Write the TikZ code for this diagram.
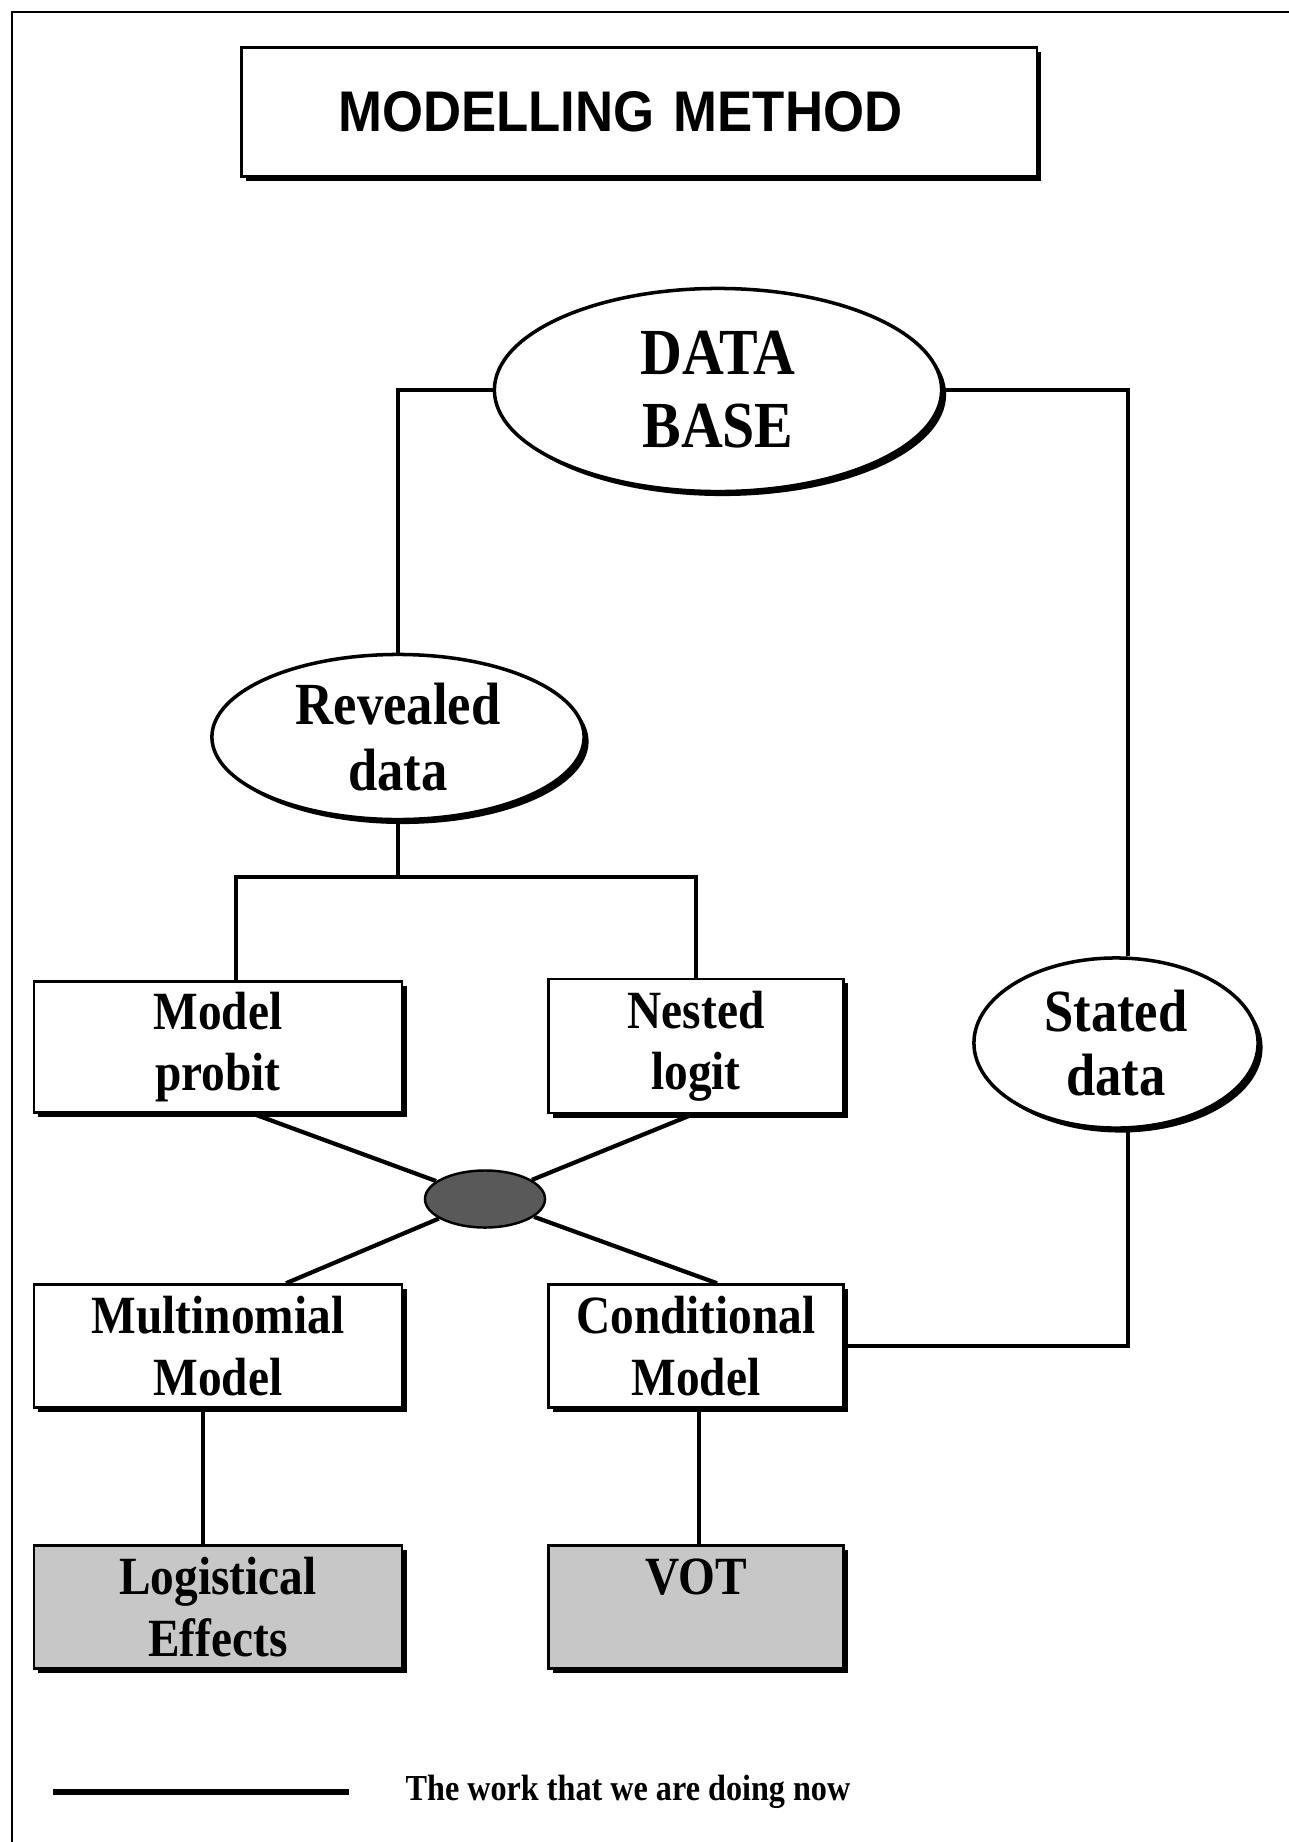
\documentclass[tikz,border=0pt]{standalone}
\usepackage{fontspec}
\setmainfont{Liberation Serif}
\newfontfamily\narrowserif[FakeStretch=0.88]{Liberation Serif}
\newfontfamily\headsans[FakeStretch=0.92]{Liberation Sans}
\usetikzlibrary{shapes.geometric,shadows}

\begin{document}
\begin{tikzpicture}[x=0.01cm, y=-0.01cm,
  every node/.style={inner sep=0pt, align=center},
  dropbk/.style={drop shadow={shadow xshift=0.045cm, shadow yshift=-0.045cm, fill=black, opacity=1}},
  methodbox/.style={draw, rectangle, line width=0.7pt, fill=white, dropbk,
    font=\narrowserif\bfseries\fontsize{15.3}{17.4}\selectfont},
  resultbox/.style={methodbox, fill=black!22},
  dataoval/.style={draw, ellipse, line width=1pt, fill=white, dropbk},
  link/.style={line width=1.2pt}]
  \useasboundingbox (0,0) rectangle (1289,1842);
  \draw[line width=0.6pt] (12,1842) -- (12,12) -- (1289,12);

  % title
  \node[draw, line width=0.7pt, fill=white, dropbk, minimum height=1.29cm, text width=7.95cm, align=left,
    font=\headsans\bfseries\fontsize{16.3}{18}\selectfont] (title) at (639,112) {\hspace*{0.97cm}MODELLING METHOD};

  % data sources
  \node[dataoval, minimum width=4.47cm, minimum height=2.03cm,
    font=\narrowserif\bfseries\fontsize{18.7}{20.8}\selectfont] (base) at (718,390) {DATA\\BASE};
  \node[dataoval, minimum width=3.72cm, minimum height=1.65cm,
    font=\narrowserif\bfseries\fontsize{17}{19}\selectfont] (revealed) at (398,737) {Revealed\\data};
  \node[dataoval, minimum width=2.84cm, minimum height=1.70cm,
    font=\narrowserif\bfseries\fontsize{17}{18}\selectfont] (stated) at (1116,1043) {Stated\\data};

  % models
  \node[methodbox, minimum width=3.68cm, minimum height=1.31cm] (probit) at (218,1047) {Model\\probit};
  \node[methodbox, minimum width=2.95cm, minimum height=1.34cm] (nested) at (696,1046) {Nested\\logit};
  \node[draw, ellipse, line width=0.7pt, fill=black!65, minimum width=1.2cm, minimum height=0.57cm] (hub) at (485,1199) {};
  \node[methodbox, minimum width=3.68cm, minimum height=1.23cm] (multi) at (218,1346) {Multinomial\\Model};
  \node[methodbox, minimum width=2.95cm, minimum height=1.23cm] (cond) at (696,1346) {Conditional\\Model};
  \node[resultbox, minimum width=3.68cm, minimum height=1.23cm] (logist) at (218,1607) {Logistical\\Effects};
  \node[resultbox, minimum width=2.95cm, minimum height=1.23cm] (vot) at (696,1607) {VOT\\\mbox{}};

  % connections
  \coordinate (fork) at (398,877);
  \draw[link] (base.west) -| (revealed.north);
  \draw[link] (base.east) -| ([xshift=0.12cm]stated.north);
  \draw[link] (revealed.south) -- (fork);
  \draw[link] ([xshift=0.18cm]probit.north) |- (fork) -| (nested.north);
  \draw[link] ([xshift=0.35cm]probit.south) -- (hub);
  \draw[link] ([xshift=-0.03cm]nested.south) -- (hub);
  \draw[link] (hub) -- ([xshift=0.68cm]multi.north);
  \draw[link] (hub) -- ([xshift=0.21cm]cond.north);
  \draw[link] ([xshift=0.12cm]stated.south) |- (cond.east);
  \draw[link] ([xshift=-0.15cm]multi.south) -- ([xshift=-0.15cm]logist.north);
  \draw[link] ([xshift=0.03cm]cond.south) -- ([xshift=0.03cm]vot.north);

  % key
  \coordinate (keyA) at (53,1792);
  \coordinate (keyB) at (349,1792);
  \draw[line width=1.6pt] (keyA) -- (keyB);
  \node[anchor=west, font=\narrowserif\bfseries\fontsize{10.4}{12}\selectfont] (keytext) at (405,1792) {The work that we are doing now};
\end{tikzpicture}
\end{document}
